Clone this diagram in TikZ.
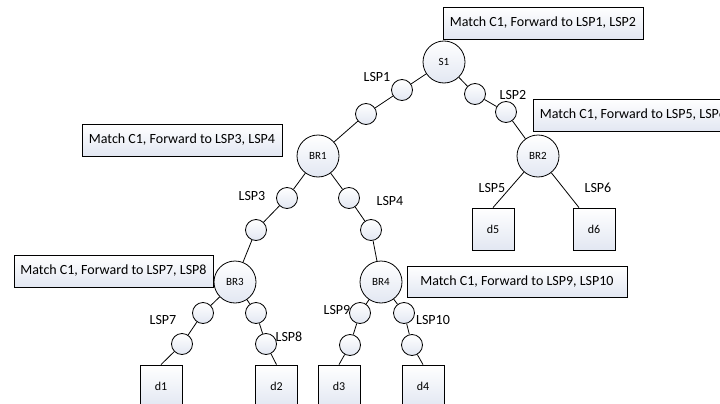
\documentclass[tikz,border=0pt]{standalone}
\usepackage{fontspec}
\setmainfont{Carlito}
\definecolor{shadeblue}{RGB}{226,231,242}
\tikzset{
  x=1pt, y=-1pt,
  shadefill/.style={top color=white, bottom color=shadeblue, draw=black, line width=0.8pt},
  bignode/.style={shadefill, circle, minimum size=42pt, inner sep=0pt, font=\fontsize{11}{12}\selectfont},
  hop/.style={shadefill, circle, minimum size=21pt, inner sep=0pt},
  dest/.style={shadefill, rectangle, minimum width=42pt, minimum height=42pt, inner sep=0pt, font=\fontsize{12}{13}\selectfont},
  note/.style={shadefill, rectangle, minimum height=32pt, inner sep=0pt, font=\fontsize{14}{15}\selectfont},
  lbl/.style={inner sep=0pt, font=\fontsize{14}{15}\selectfont},
  link/.style={draw=black, line width=0.8pt}
}
\begin{document}
\begin{tikzpicture}
\useasboundingbox (0,0) rectangle (720,404);
% nodes
\node[bignode] (S1) at (444,62) {S1};
\node[bignode] (BR1) at (318,156) {BR1};
\node[bignode] (BR2) at (538,156) {BR2};
\node[bignode] (BR3) at (235,282) {BR3};
\node[bignode] (BR4) at (381,282) {BR4};
\node[hop] (c1) at (402,90) {};
\node[hop] (c2) at (366,114) {};
\node[hop] (c3) at (475,94) {};
\node[hop] (c4) at (506,112) {};
\node[hop] (c5) at (287,198) {};
\node[hop] (c6) at (349,198) {};
\node[hop] (c7) at (256,230) {};
\node[hop] (c8) at (371,230) {};
\node[hop] (c9) at (203,313) {};
\node[hop] (c10) at (256,313) {};
\node[hop] (c11) at (182,344) {};
\node[hop] (c12) at (266,344) {};
\node[hop] (c13) at (360,313) {};
\node[hop] (c14) at (404,313) {};
\node[hop] (c15) at (350,345) {};
\node[hop] (c16) at (412,345) {};
\node[dest] (d5) at (493,229) {d5};
\node[dest] (d6) at (594,229) {d6};
\node[dest] (d1) at (161,386) {d1};
\node[dest] (d2) at (276.5,386) {d2};
\node[dest] (d3) at (339,386) {d3};
\node[dest] (d4) at (423,386) {d4};
% connectors
\draw[link] (S1) -- (c1) -- (c2) -- (BR1);
\draw[link] (S1) -- (c3) -- (c4) -- (BR2);
\draw[link] (BR1) -- (c5) -- (c7) -- (BR3);
\draw[link] (BR1) -- (c6) -- (c8) -- (BR4);
\draw[link] (BR2) -- (d5.north);
\draw[link] (BR2) -- ([xshift=-15pt]d6.north);
\draw[link] (BR3) -- (c9) -- (c11) -- (d1.north);
\draw[link] (BR3) -- (c10) -- (c12) -- (d2.north);
\draw[link] (BR4) -- (c13) -- (c15) -- (d3.north);
\draw[link] (BR4) -- (c14) -- (c16) -- (d4.north);
% notes
\node[note, minimum width=200pt] (n1) at (543,23) {Match C1, Forward to LSP1, LSP2};
\node[note, minimum width=200pt] (n2) at (633,115) {Match C1, Forward to LSP5, LSP6};
\node[note, minimum width=200pt] (n3) at (182,140) {Match C1, Forward to LSP3, LSP4};
\node[note, minimum width=199pt] (n4) at (113.5,271) {Match C1, Forward to LSP7, LSP8};
\node[note, minimum width=220pt, minimum height=31pt] (n5) at (517,281.5) {Match C1, Forward to LSP9, LSP10};
% labels
\node[lbl] (l1) at (377,77) {LSP1};
\node[lbl] (l2) at (513,95) {LSP2};
\node[lbl] (l3) at (252,196) {LSP3};
\node[lbl] (l4) at (390,201) {LSP4};
\node[lbl] (l5) at (492,188) {LSP5};
\node[lbl] (l6) at (598,188) {LSP6};
\node[lbl] (l7) at (163,320) {LSP7};
\node[lbl] (l8) at (289,337) {LSP8};
\node[lbl] (l9) at (337,310) {LSP9};
\node[lbl] (l10) at (433,320) {LSP10};
\end{tikzpicture}
\end{document}
